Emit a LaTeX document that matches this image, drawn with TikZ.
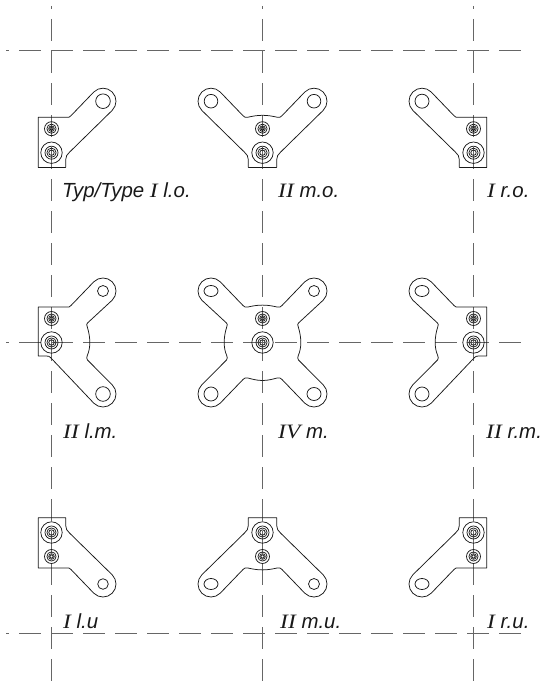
\documentclass[tikz,border=0pt]{standalone}
\usepackage{fontspec}
\setmainfont{Liberation Sans}
\newfontfamily\romfont[FakeStretch=1.15]{Liberation Serif}
\newcommand{\rom}[1]{{\romfont\itshape #1}}
\newcommand{\armU}{ -- (15,35.4) .. controls (17,35) and (18,35.5) .. (19.5,37) -- (42.3,60.7) arc[start angle=135,end angle=-45,radius=13]}
\newcommand{\armL}{ -- (60.7,-42.3) arc[start angle=45,end angle=-135,radius=13] -- (19.5,-37) .. controls (18,-35.5) and (17,-35) .. (15,-35.4)}
\newcommand{\waveR}{ -- (36,19.5) .. controls (35,18.5) and (35,17.5) .. (35.8,15.5) .. controls (37.5,10) and (38.3,5) .. (38.3,0) .. controls (38.3,-5) and (37.5,-9) .. (35.8,-13) .. controls (35,-15) and (35,-16) .. (36,-17.5)}
\newcommand{\footpart}{ -- (18,0.5) .. controls (15.5,-2) and (14.2,-3.5) .. (14.2,-7) -- (14.2,-14.7)}
\newcommand{\screws}{%
  \foreach \rr in {10.7,6.5,4.6,2.7} \draw[part] (0,0) circle[radius=\rr];
  \foreach \rr in {7,4.6,2.8,1.8} \draw[part] (0,24) circle[radius=\rr];
}
\newcommand{\pieceI}[2]{% options, holes
  \begin{scope}[#1]
    \draw[part] (-13.3,35.4) \armU \footpart -- (-13.3,-14.7) -- cycle;
    \screws #2
  \end{scope}}
\newcommand{\pieceII}[2]{% side piece
  \begin{scope}[#1]
    \draw[part] (-13.3,35.4) \armU \waveR -- (60.7,-42.3) arc[start angle=45,end angle=-135,radius=13] -- (-1,-15) .. controls (-2,-14) and (-3,-13.5) .. (-5,-13.5) -- (-13.3,-13.5) -- cycle;
    \screws #2
  \end{scope}}
\newcommand{\pieceM}[2]{% two arms up, foot below
  \begin{scope}[#1]
    \foreach \s in {1,-1} \draw[part,xscale=\s] (0,37.4) .. controls (6,37.4) and (11,36.3) .. (15,35.4) \armU \footpart -- (0,-14.7);
    \screws #2
  \end{scope}}
\newcommand{\ovalhole}[2]{\draw[part] (#1,#2) ellipse[x radius=7,y radius=5.5];}
\newcommand{\hole}[3]{\draw[part] (#1,#2) circle[radius=#3];}
\tikzset{
  part/.style={line width=0.75bp,draw=black!90,line join=round},
  axis/.style={line width=1.1bp,draw=black!60,dash pattern=on 22bp off 10bp,dash phase=19bp},
  lab/.style={anchor=base west,inner sep=0pt,font=\fontsize{20.5}{21}\selectfont\itshape,text=black!90}
}
\begin{document}
\begin{tikzpicture}[x=1bp,y=1bp]
\useasboundingbox (0,-686) rectangle (541,0);
% centre lines
\foreach \n/\x in {a/51.5,b/262.5,c/473.5} {
  \coordinate (v\n t) at (\x,-6);
  \coordinate (v\n b) at (\x,-681);
  \draw[axis] (v\n t) -- (v\n b);
}
\foreach \n/\y in {a/50.5,b/342.5,c/633.5} {
  \coordinate (h\n l) at (6,-\y);
  \coordinate (h\n r) at (521,-\y);
  \draw[axis] (h\n l) -- (h\n r);
}
% top row
\pieceI{shift={(51.5,-152.7)}}{\hole{51.5}{51.5}{7.3}}
\pieceM{shift={(262.5,-152.7)}}{\hole{51.5}{51.5}{6.8}\hole{-51.5}{51.5}{6.8}}
\pieceI{shift={(473.5,-152.7)},xscale=-1}{\hole{51.5}{51.5}{7}}
% middle row
\pieceII{shift={(51.5,-342.5)}}{\hole{51.5}{51.5}{5.5}\hole{51.5}{-51.5}{7.3}}
\begin{scope}[shift={(262.5,-342.5)}]
  \foreach \s in {1,-1} \draw[part,xscale=\s] (0,37.4) .. controls (6,37.4) and (11,36.3) .. (15,35.4) \armU \waveR \armL .. controls (11,-36.4) and (6,-38) .. (0,-38);
  \screws
  \ovalhole{-51.5}{51.5}
  \hole{51.5}{51.5}{5.5}
  \hole{-51.5}{-51.5}{7}
  \draw[part] (51.5,-51.5) ellipse[x radius=7,y radius=6.5];
\end{scope}
\pieceII{shift={(473.5,-342.5)},xscale=-1}{\ovalhole{51.5}{51.5}\hole{51.5}{-51.5}{7}}
% bottom row
\pieceI{shift={(51.5,-532.5)},yscale=-1}{\hole{51.5}{51.5}{5.3}}
\pieceM{shift={(262.5,-532.5)},yscale=-1}{\ovalhole{-51.5}{51.5}\hole{51.5}{51.5}{5.5}}
\pieceI{shift={(473.5,-532.5)},xscale=-1,yscale=-1}{\ovalhole{51.5}{51.5}}
% labels
\node[lab] (l1) at (62,-197) {Typ/Type \rom{I} l.o.};
\node[lab] (l2) at (278,-197) {\rom{II} m.o.};
\node[lab] (l3) at (487,-197) {\rom{I} r.o.};
\node[lab] (l4) at (63,-438) {\rom{II} l.m.};
\node[lab] (l5) at (278,-438) {\rom{IV} m.};
\node[lab] (l6) at (486,-438) {\rom{II} r.m.};
\node[lab] (l7) at (63,-628) {\rom{I} l.u};
\node[lab] (l8) at (280,-628) {\rom{II} m.u.};
\node[lab] (l9) at (487,-628) {\rom{I} r.u.};
\end{tikzpicture}
\end{document}
